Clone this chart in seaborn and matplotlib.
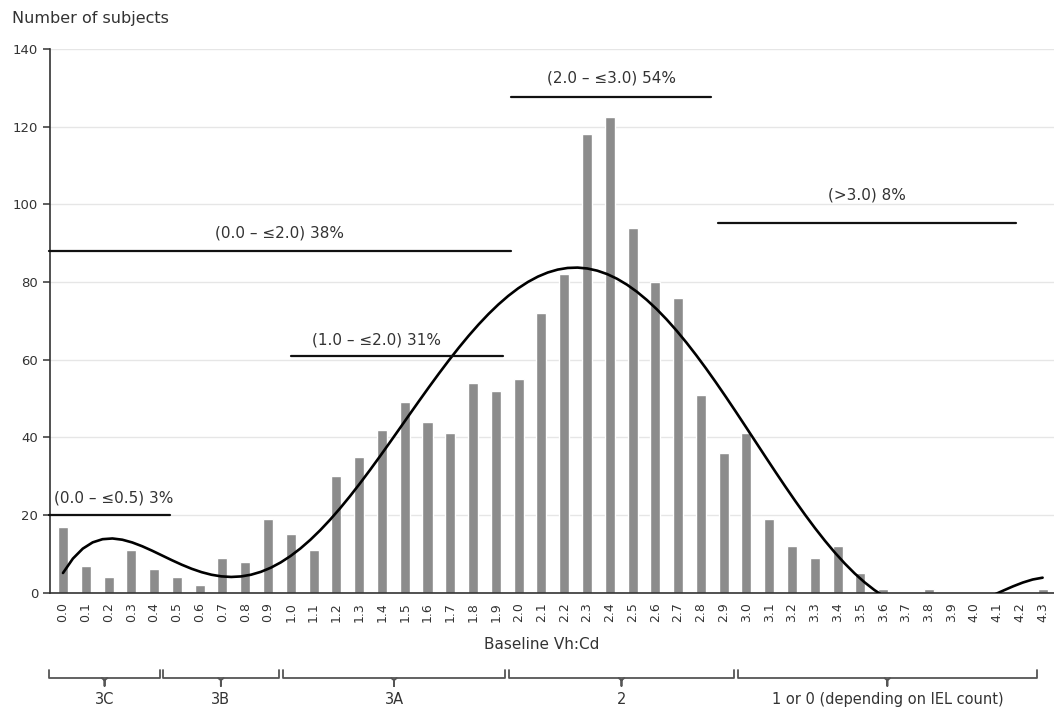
import numpy as np
import pandas as pd
import matplotlib
matplotlib.use("Agg")
import matplotlib.pyplot as plt
import matplotlib.transforms as mtransforms
import seaborn as sns

# ---- data -------------------------------------------------------------
categories = ["0.0", "0.1", "0.2", "0.3", "0.4", "0.5", "0.6", "0.7", "0.8", "0.9",
              "1.0", "1.1", "1.2", "1.3", "1.4", "1.5", "1.6", "1.7", "1.8", "1.9",
              "2.0", "2.1", "2.2", "2.3", "2.4", "2.5", "2.6", "2.7", "2.8", "2.9",
              "3.0", "3.1", "3.2", "3.3", "3.4", "3.5", "3.6", "3.7", "3.8", "3.9",
              "4.0", "4.1", "4.2", "4.3"]
subjects = [17, 7, 4, 11, 6, 4, 2, 9, 8, 19,
            15, 11, 30, 35, 42, 49, 44, 41, 54, 52,
            55, 72, 82, 118, 122.5, 94, 80, 76, 51, 36,
            41, 19, 12, 9, 12, 5, 1, 0, 1, 0,
            0, 0, 0, 1]

# range annotations: label, start/end (category index units), level, label anchor
range_labels = ["(0.0 \u2013 \u22640.5) 3%", "(0.0 \u2013 \u22642.0) 38%",
                "(1.0 \u2013 \u22642.0) 31%", "(2.0 \u2013 \u22643.0) 54%", "(>3.0) 8%"]
range_start = [-0.6, -0.6, 10.03, 19.68, 28.77]
range_end = [4.69, 19.68, 19.3, 28.45, 41.83]
range_level = [20, 88, 60.9, 127.7, 95.1]
label_x = [-0.4, 9.5, 13.77, 24.07, 35.3]
label_y = [24.4, 92.6, 65.0, 132.5, 102.4]
label_ha = ["left", "center", "center", "center", "center"]

# grade brackets under the axis
grade_labels = ["3C", "3B", "3A", "2", "1 or 0 (depending on IEL count)"]
grade_start = [-0.6, 4.37, 9.64, 19.56, 29.62]
grade_end = [4.25, 9.49, 19.42, 29.47, 42.75]

# ---- figure -----------------------------------------------------------
sns.set_theme(style="white")
plt.rcParams["font.family"] = ["DejaVu Sans"]
plt.rcParams["text.color"] = "#333333"

df = pd.DataFrame({"Vh:Cd": categories, "n": subjects})
df["pos"] = np.arange(len(df))

fig = plt.figure(figsize=(10.54, 7.14), dpi=100)
ax = fig.add_axes([50 / 1054, 1 - 592.7 / 714, 1 - 50 / 1054, (592.7 - 49) / 714])

sns.barplot(data=df, x="Vh:Cd", y="n", order=categories, color="#8c8c8c",
            saturation=1, width=0.44, ax=ax, zorder=2)
sns.regplot(data=df, x="pos", y="n", order=6, scatter=False, ci=None, ax=ax,
            truncate=True, line_kws=dict(color="black", lw=1.9, zorder=4))

ax.set_xlim(-0.57, 43.5)
ax.set_ylim(0, 140)
ax.set_yticks(np.arange(0, 141, 20))
ax.grid(axis="y", color="#e6e6e6", lw=1.0, zorder=0)
ax.set_axisbelow(True)
for s in ["top", "right"]:
    ax.spines[s].set_visible(False)
for s in ["left", "bottom"]:
    ax.spines[s].set_color("#333333")
    ax.spines[s].set_linewidth(1.2)

ax.set_xticks(np.arange(len(categories)))
ax.set_xticklabels(categories, rotation=90, fontsize=9, color="#333333")
ax.set_xticks(np.arange(len(categories) + 1) - 0.5, minor=True)
ax.tick_params(axis="x", which="major", length=0, pad=7)
ax.tick_params(axis="x", which="minor", length=5, width=1.1, color="#333333", direction="out")
ax.tick_params(axis="y", which="major", length=5, width=1.1, color="#333333",
               direction="out", labelsize=9.5, labelcolor="#333333", left=True)
ax.set_xlabel("")
ax.set_ylabel("")

# range annotations
for lab, x0, x1, yv, tx, ty, ha in zip(range_labels, range_start, range_end,
                                       range_level, label_x, label_y, label_ha):
    ax.plot([x0, x1], [yv, yv], color="#111111", lw=1.6, clip_on=False, zorder=5)
    ax.text(tx, ty, lab, ha=ha, va="center", fontsize=11, zorder=6)

fig.text(12 / 1054, 1 - 18 / 714, "Number of subjects", ha="left", va="center",
         fontsize=11.5)

trans = mtransforms.blended_transform_factory(ax.transData, ax.transAxes)
ax.text(21.0, -0.096, "Baseline Vh:Cd", transform=trans, ha="center", va="center",
        fontsize=11)

yb, ytop, ytick = -0.157, -0.142, -0.1715
for lab, x0, x1 in zip(grade_labels, grade_start, grade_end):
    xm = (x0 + x1) / 2
    ax.plot([x0, x0, x1, x1], [ytop, yb, yb, ytop], transform=trans, color="#555555",
            lw=1.3, clip_on=False)
    ax.plot([xm - 0.12, xm, xm, xm, xm + 0.12], [yb, yb - 0.004, ytick, yb - 0.004, yb],
            transform=trans, color="#555555", lw=1.3, clip_on=False)
    ax.text(xm, -0.197, lab, transform=trans, ha="center", va="center", fontsize=10.5)

fig.savefig("out.png", dpi=100)
